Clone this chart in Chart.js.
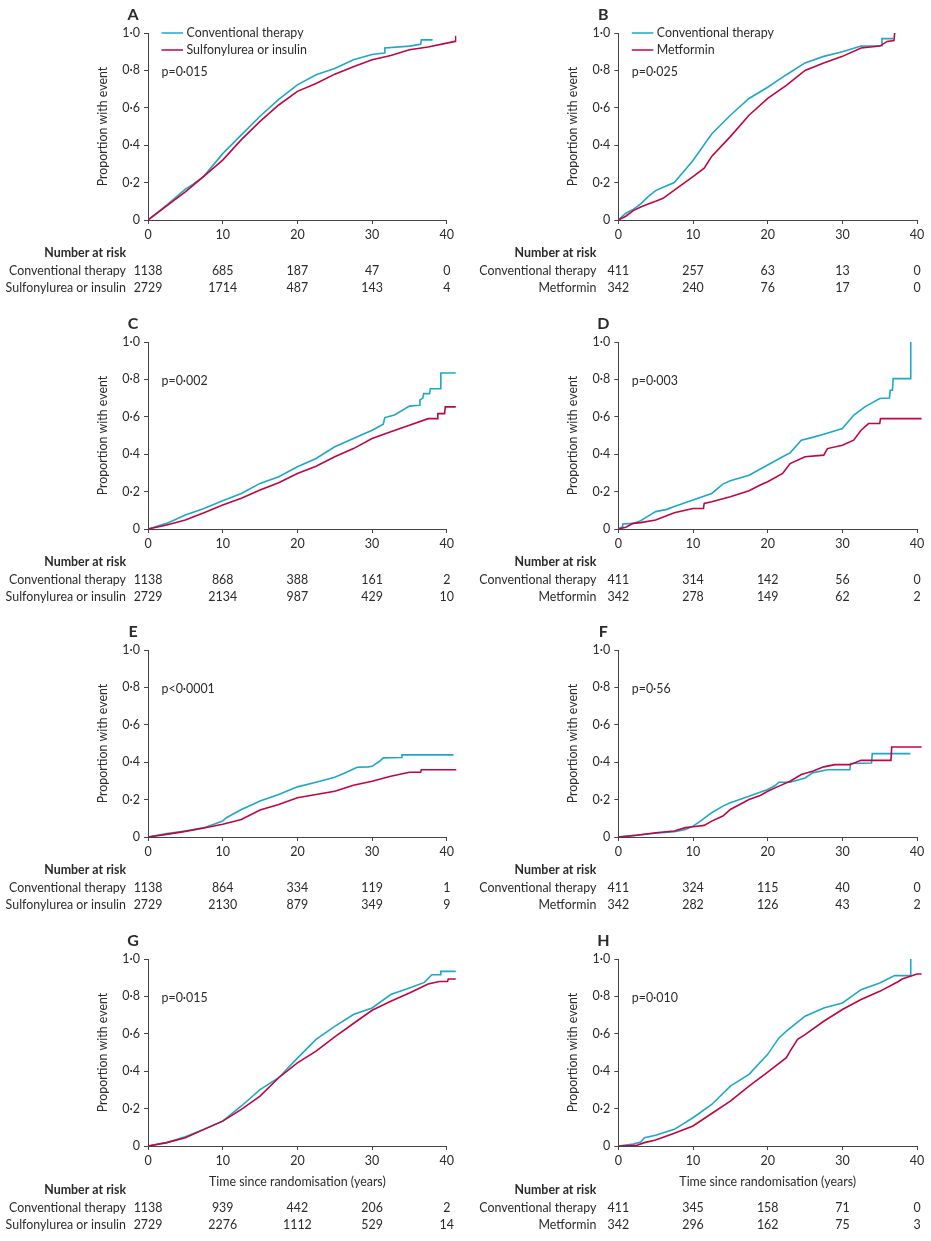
<!DOCTYPE html>
<html>
<head>
<meta charset="utf-8">
<script src="https://cdn.jsdelivr.net/npm/chart.js@4.4.1/dist/chart.umd.min.js"></script>
<style>
  body { margin: 0; background: #fff; }
  #wrap { position: relative; width: 931px; height: 1241px; }
  #wrap canvas { position: absolute; }
</style>
</head>
<body>
<div id="wrap"></div>
<script>
// ticks
const xTicks = [0, 10, 20, 30, 40];
const yTicks = [0, 0.2, 0.4, 0.6, 0.8, 1.0];

// series: [years, proportion with event]
const convA = [[0,0],[2.5,0.08],[5,0.165],[6,0.19],[7.5,0.235],[10,0.355],[12.5,0.455],[15,0.555],[17.5,0.645],[20,0.723],[22.5,0.777],[25,0.81],[27.5,0.857],[30,0.885],[31.6,0.893],[31.7,0.92],[35,0.93],[36.5,0.94],[36.6,0.963],[38.1,0.963]];
const sulfA = [[0,0],[2.5,0.075],[5,0.15],[7.5,0.235],[10,0.32],[12.5,0.43],[15,0.527],[17.5,0.615],[20,0.688],[22.5,0.73],[25,0.78],[27.5,0.82],[30,0.857],[32.5,0.88],[35,0.91],[37.5,0.925],[40,0.946],[41.1,0.955],[41.2,0.985]];
const convB = [[0,0],[1,0.036],[2,0.057],[3,0.086],[4,0.125],[5,0.157],[6,0.175],[7.5,0.2],[10,0.318],[12.5,0.46],[15,0.56],[17.5,0.65],[20,0.71],[22.5,0.777],[25,0.84],[27.5,0.875],[30,0.9],[32.5,0.93],[35.2,0.932],[35.3,0.97],[36.8,0.97]];
const metB = [[0,0],[1,0.02],[2,0.05],[3,0.07],[4,0.086],[5,0.1],[6,0.116],[7.5,0.16],[10,0.232],[11.5,0.277],[12.5,0.34],[15,0.446],[17.5,0.56],[20,0.65],[22.5,0.72],[25,0.8],[27.5,0.84],[30,0.875],[32.5,0.92],[35,0.93],[36,0.955],[36.9,0.96],[37,1.0]];
const convC = [[0,0],[2.5,0.03],[5,0.075],[7.5,0.11],[10,0.151],[12.5,0.19],[15,0.244],[17.5,0.279],[20,0.333],[22.5,0.377],[25,0.44],[27.5,0.484],[30,0.528],[31.5,0.56],[31.7,0.596],[33,0.61],[35,0.657],[36.3,0.662],[36.4,0.69],[36.8,0.7],[36.9,0.724],[37.7,0.724],[37.8,0.75],[39.1,0.75],[39.2,0.834],[41.2,0.834]];
const sulfC = [[0,0],[2.5,0.021],[5,0.048],[7.5,0.087],[10,0.128],[12.5,0.164],[15,0.208],[17.5,0.247],[20,0.297],[22.5,0.336],[25,0.386],[27.5,0.43],[30,0.484],[32.5,0.52],[35,0.555],[37.5,0.59],[38.7,0.59],[38.8,0.617],[39.7,0.617],[39.8,0.653],[41.2,0.653]];
const convD = [[0,0],[0.5,0.012],[0.6,0.027],[2,0.03],[3,0.044],[4,0.069],[5,0.093],[6.5,0.105],[7.5,0.12],[10,0.155],[12.5,0.19],[14,0.24],[15,0.258],[17.5,0.288],[20,0.342],[22,0.386],[23,0.407],[24.5,0.475],[26,0.49],[27.5,0.507],[30,0.537],[31.5,0.608],[33,0.653],[35,0.698],[36.3,0.7],[36.4,0.742],[36.7,0.742],[36.8,0.804],[39.1,0.804],[39.15,1.0]];
const metD = [[0,0],[1,0.009],[2,0.03],[3,0.034],[5,0.048],[7.5,0.087],[10,0.11],[11.4,0.11],[11.5,0.137],[12.5,0.146],[15,0.173],[17.5,0.205],[19,0.235],[20,0.253],[22,0.297],[23,0.35],[25,0.386],[27.5,0.395],[28,0.43],[30,0.448],[31.5,0.475],[32.5,0.528],[33.5,0.564],[35,0.564],[35.1,0.59],[40.6,0.59]];
const convE = [[0,0],[2.5,0.018],[5,0.032],[7.5,0.05],[9,0.071],[10,0.085],[10.5,0.103],[12.5,0.147],[14,0.174],[15,0.192],[17.5,0.227],[20,0.268],[22.5,0.293],[25,0.32],[26.5,0.345],[28,0.373],[29.5,0.375],[30,0.378],[31,0.405],[31.5,0.423],[33.9,0.425],[34,0.439],[40.9,0.439]];
const sulfE = [[0,0],[2.5,0.014],[5,0.03],[7.5,0.048],[10,0.068],[12.5,0.094],[15,0.144],[17.5,0.174],[20,0.21],[22.5,0.227],[25,0.245],[27.5,0.277],[30,0.298],[32.5,0.325],[35,0.346],[36.5,0.346],[36.6,0.36],[41.3,0.36]];
const convF = [[0,0],[2.5,0.01],[5,0.02],[7.5,0.028],[9,0.04],[10,0.058],[11,0.085],[12.5,0.13],[14,0.165],[15,0.183],[17.5,0.218],[20,0.254],[21,0.275],[21.5,0.293],[23,0.293],[25,0.316],[26,0.343],[28,0.36],[31,0.36],[31.1,0.393],[33.9,0.396],[34,0.446],[39.1,0.446]];
const metF = [[0,0],[2.5,0.009],[5,0.023],[7.5,0.032],[9,0.05],[10,0.055],[11.5,0.062],[12.5,0.085],[14,0.112],[15,0.147],[17.5,0.2],[19,0.222],[20,0.245],[21.5,0.272],[23,0.298],[24.5,0.334],[26,0.352],[27.5,0.375],[29,0.387],[31,0.387],[32.5,0.41],[36.5,0.41],[36.6,0.481],[40.6,0.481]];
const convG = [[0,0],[2.5,0.018],[5,0.05],[7.5,0.089],[10,0.133],[12.5,0.214],[15,0.302],[17.5,0.365],[20,0.47],[22.5,0.57],[25,0.64],[27.5,0.703],[30,0.738],[32.5,0.81],[35,0.845],[37,0.875],[38,0.916],[39.1,0.916],[39.2,0.934],[41.2,0.934]];
const sulfG = [[0,0],[2.5,0.018],[5,0.044],[7.5,0.089],[10,0.133],[12.5,0.196],[15,0.267],[17.5,0.365],[20,0.445],[22.5,0.507],[25,0.584],[27.5,0.655],[30,0.726],[32.5,0.774],[35,0.818],[37.5,0.866],[39,0.88],[40.1,0.88],[40.2,0.893],[41.2,0.893]];
const convH = [[0,0],[2,0.01],[3,0.021],[3.5,0.044],[5,0.057],[7.5,0.089],[10,0.151],[12.5,0.222],[15,0.32],[17.5,0.383],[20,0.49],[21.5,0.578],[22.5,0.614],[25,0.694],[27.5,0.738],[30,0.765],[32.5,0.836],[35,0.872],[37,0.911],[39.1,0.911],[39.15,1.0]];
const metH = [[0,0],[2.5,0.004],[3.5,0.018],[5,0.032],[7.5,0.068],[10,0.107],[12.5,0.174],[15,0.24],[17.5,0.32],[20,0.395],[22.5,0.472],[23,0.507],[24,0.57],[25,0.596],[27.5,0.667],[30,0.73],[32.5,0.783],[35,0.827],[37.5,0.88],[38,0.893],[40,0.92],[40.6,0.92]];

// number at risk at 0, 10, 20, 30, 40 years
const riskConvA = [1138, 685, 187, 47, 0];
const riskSulfA = [2729, 1714, 487, 143, 4];
const riskConvB = [411, 257, 63, 13, 0];
const riskMetB = [342, 240, 76, 17, 0];
const riskConvC = [1138, 868, 388, 161, 2];
const riskSulfC = [2729, 2134, 987, 429, 10];
const riskConvD = [411, 314, 142, 56, 0];
const riskMetD = [342, 278, 149, 62, 2];
const riskConvE = [1138, 864, 334, 119, 1];
const riskSulfE = [2729, 2130, 879, 349, 9];
const riskConvF = [411, 324, 115, 40, 0];
const riskMetF = [342, 282, 126, 43, 2];
const riskConvG = [1138, 939, 442, 206, 2];
const riskSulfG = [2729, 2276, 1112, 529, 14];
const riskConvH = [411, 345, 158, 71, 0];
const riskMetH = [342, 296, 162, 75, 3];

const pValues = ['p=0·015', 'p=0·025', 'p=0·002', 'p=0·003', 'p<0·0001', 'p=0·56', 'p=0·015', 'p=0·010'];
const convLabel = 'Conventional therapy';
const sulfLabel = 'Sulfonylurea or insulin';
const metLabel = 'Metformin';

const TEAL = '#1ea7c9';
const RED = '#c0063e';
const INK = '#2a2a2a';
const FONT = 'Lato, "Open Sans", sans-serif';

const panels = [
  { id: 'A', conv: convA, other: sulfA, rc: riskConvA, ro: riskSulfA, otherLabel: sulfLabel, legend: true },
  { id: 'B', conv: convB, other: metB, rc: riskConvB, ro: riskMetB, otherLabel: metLabel, legend: true },
  { id: 'C', conv: convC, other: sulfC, rc: riskConvC, ro: riskSulfC, otherLabel: sulfLabel },
  { id: 'D', conv: convD, other: metD, rc: riskConvD, ro: riskMetD, otherLabel: metLabel },
  { id: 'E', conv: convE, other: sulfE, rc: riskConvE, ro: riskSulfE, otherLabel: sulfLabel },
  { id: 'F', conv: convF, other: metF, rc: riskConvF, ro: riskMetF, otherLabel: metLabel },
  { id: 'G', conv: convG, other: sulfG, rc: riskConvG, ro: riskSulfG, otherLabel: sulfLabel, xTitle: true },
  { id: 'H', conv: convH, other: metH, rc: riskConvH, ro: riskMetH, otherLabel: metLabel, xTitle: true }
];

const rowTops = [0, 309, 617, 926];

// draws letter, legend, p value, axis titles and the number-at-risk table
const extras = {
  id: 'extras',
  afterDraw(chart) {
    const p = chart.options.plugins.extras;
    const { ctx, chartArea } = chart;
    const xs = chart.scales.x;
    const left = chartArea.left, top = chartArea.top, bottom = chartArea.bottom;
    ctx.save();

    // x axis line only up to 40
    ctx.strokeStyle = '#444';
    ctx.lineWidth = 1;
    ctx.beginPath();
    ctx.moveTo(left, bottom + 0.5);
    ctx.lineTo(xs.getPixelForValue(40), bottom + 0.5);
    ctx.stroke();

    ctx.fillStyle = INK;
    ctx.font = 'bold 16px ' + FONT;
    ctx.textAlign = 'center';
    ctx.textBaseline = 'middle';
    ctx.fillText(p.letter, left - 15, 15);

    ctx.font = '12.4px ' + FONT;
    ctx.textAlign = 'left';
    if (p.legend) {
      [[convLabel, TEAL, 0], [p.otherLabel, RED, 17]].forEach(([txt, col, dy]) => {
        ctx.strokeStyle = col;
        ctx.lineWidth = 1.5;
        ctx.beginPath();
        ctx.moveTo(left + 13.5, top + dy);
        ctx.lineTo(left + 35, top + dy);
        ctx.stroke();
        ctx.fillText(txt, left + 38.5, top + dy);
      });
    }
    ctx.fillText(p.pValue, left + 13.5, top + 38.5);

    // y title
    ctx.save();
    ctx.translate(left - 45, (top + bottom) / 2);
    ctx.rotate(-Math.PI / 2);
    ctx.textAlign = 'center';
    ctx.fillText('Proportion with event', 0, 0);
    ctx.restore();

    let ty = bottom + 33;
    if (p.xTitle) {
      ctx.textAlign = 'center';
      ctx.fillText('Time since randomisation (years)', (xs.getPixelForValue(0) + xs.getPixelForValue(40)) / 2, bottom + 36);
      ty = bottom + 44;
    }
    ctx.textAlign = 'right';
    ctx.font = 'bold 12.4px ' + FONT;
    ctx.fillText('Number at risk', left - 22, ty);
    ctx.font = '12.4px ' + FONT;
    ctx.fillText(convLabel, left - 22, ty + 17.5);
    ctx.fillText(p.otherLabel, left - 22, ty + 34.5);
    ctx.textAlign = 'center';
    xTicks.forEach((t, i) => {
      const x = xs.getPixelForValue(t);
      ctx.fillText(String(p.rc[i]), x, ty + 17.5);
      ctx.fillText(String(p.ro[i]), x, ty + 34.5);
    });
    ctx.restore();
  }
};

const wrap = document.getElementById('wrap');
panels.forEach((pn, i) => {
  const col = i % 2, row = Math.floor(i / 2);
  const W = col === 0 ? 465 : 466;
  const H = row === 3 ? 315 : 309;
  const axisLeft = col === 0 ? 148 : 153.3;
  const canvas = document.createElement('canvas');
  canvas.width = W;
  canvas.height = H;
  canvas.style.left = (col === 0 ? 0 : 465) + 'px';
  canvas.style.top = rowTops[row] + 'px';
  wrap.appendChild(canvas);

  const plotW = 41.3 * 7.47;
  const padRight = W - axisLeft - plotW;

  new Chart(canvas.getContext('2d'), {
    type: 'line',
    data: {
      datasets: [
        { data: pn.other.map(([x, y]) => ({ x, y })), borderColor: RED, borderWidth: 1.6 },
        { data: pn.conv.map(([x, y]) => ({ x, y })), borderColor: TEAL, borderWidth: 1.6 }
      ]
    },
    options: {
      responsive: false,
      animation: false,
      events: [],
      elements: { point: { radius: 0 }, line: { tension: 0 } },
      layout: { padding: { left: 0, right: padRight, top: 33, bottom: 0 } },
      plugins: {
        legend: { display: false },
        tooltip: { enabled: false },
        extras: { letter: pn.id, legend: pn.legend, pValue: pValues[i], otherLabel: pn.otherLabel, rc: pn.rc, ro: pn.ro, xTitle: pn.xTitle }
      },
      scales: {
        x: {
          type: 'linear', min: 0, max: 41.3,
          afterBuildTicks: s => { s.ticks = xTicks.map(v => ({ value: v })); },
          afterFit: s => { s.height = H - 220; },
          grid: { drawOnChartArea: false, drawTicks: true, tickLength: 4, color: '#444' },
          border: { display: false },
          ticks: { color: INK, font: { family: FONT, size: 12.5 }, padding: 3, maxRotation: 0 }
        },
        y: {
          type: 'linear', min: 0, max: 1,
          afterBuildTicks: s => { s.ticks = yTicks.map(v => ({ value: v })); },
          afterFit: s => { s.width = axisLeft; },
          grid: { drawOnChartArea: false, drawTicks: true, tickLength: 4, color: '#444' },
          border: { display: true, color: '#444', width: 1 },
          ticks: {
            color: INK, font: { family: FONT, size: 12.5 }, padding: 4,
            callback: v => v === 0 ? '0' : v.toFixed(1).replace('.', '·')
          }
        }
      }
    },
    plugins: [extras]
  });
});
</script>
</body>
</html>
